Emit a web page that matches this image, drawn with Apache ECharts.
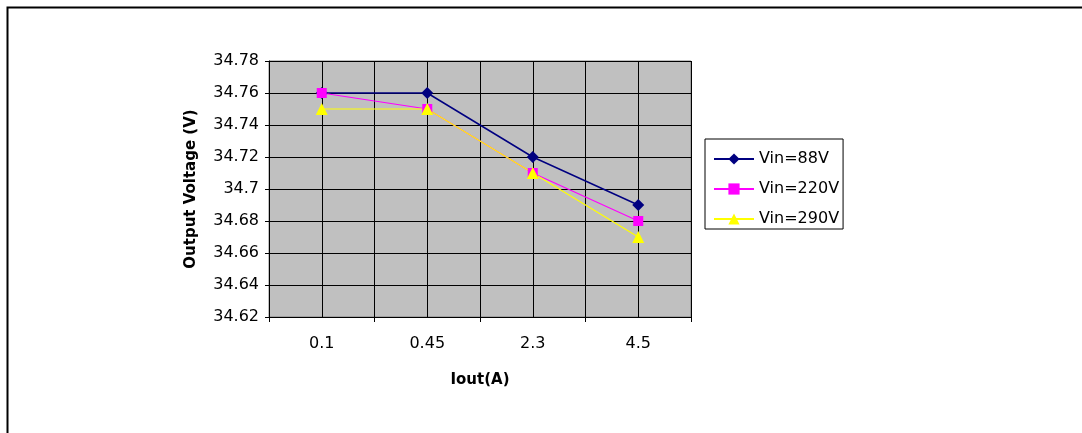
<!DOCTYPE html>
<html>
<head>
<meta charset="utf-8">
<script src="https://cdn.jsdelivr.net/npm/echarts@6/dist/echarts.min.js"></script>
<style>html,body{margin:0;padding:0;background:#fff;}#c{width:1082px;height:433px;}</style>
</head>
<body>
<div id="c"></div>
<script>
var categories = ['0.1', '0.45', '2.3', '4.5'];
var vin88 = [34.76, 34.76, 34.72, 34.69];
var vin220 = [34.76, 34.75, 34.71, 34.68];
var vin290 = [34.75, 34.75, 34.71, 34.67];
var seriesNames = ['Vin=88V', 'Vin=220V', 'Vin=290V'];
var yMin = 34.62, yMax = 34.78, yStep = 0.02;

var chart = echarts.init(document.getElementById('c'), null, {renderer: 'canvas'});
var font = 'DejaVu Sans, Liberation Sans, Arial, sans-serif';
chart.setOption({
  backgroundColor: '#ffffff',
  animation: false,
  graphic: [{
    type: 'rect', shape: {x: 7.5, y: 7.5, width: 1200, height: 600},
    style: {fill: 'none', stroke: '#000', lineWidth: 2}, silent: true, z: 0
  }],
  grid: {
    left: 269, top: 61, right: 391, bottom: 116,
    show: true, backgroundColor: '#C0C0C0', borderColor: '#808080', borderWidth: 1
  },
  legend: {
    orient: 'vertical', left: 705, top: 139,
    borderColor: '#000', borderWidth: 1, borderRadius: 0,
    padding: [12, 4, 2, 8],
    itemWidth: 40, itemHeight: 14, itemGap: 14,
    textStyle: {fontFamily: font, fontSize: 16, lineHeight: 14, color: '#000'},
    data: seriesNames
  },
  xAxis: {
    type: 'category', data: categories, boundaryGap: true,
    name: 'Iout(A)', nameLocation: 'middle', nameGap: 56,
    nameTextStyle: {fontFamily: font, fontSize: 15, fontWeight: 'bold', color: '#000'},
    axisLine: {lineStyle: {color: '#000', width: 1}},
    axisTick: {show: true, length: 5, lineStyle: {color: '#000'}},
    axisLabel: {fontFamily: font, fontSize: 16, color: '#000', margin: 19},
    splitLine: {show: true, lineStyle: {color: '#000', width: 1}}
  },
  yAxis: {
    type: 'value', min: yMin, max: yMax, interval: yStep,
    name: 'Output Voltage (V)', nameLocation: 'middle', nameGap: 70, nameRotate: 90,
    nameTextStyle: {fontFamily: font, fontSize: 15, fontWeight: 'bold', color: '#000'},
    axisLine: {show: true, lineStyle: {color: '#000', width: 1}},
    axisTick: {show: true, length: 4, lineStyle: {color: '#000'}},
    axisLabel: {
      fontFamily: font, fontSize: 16, color: '#000', margin: 10,
      formatter: function (v) { return String(parseFloat(v.toFixed(2))); }
    },
    splitLine: {show: true, lineStyle: {color: '#000', width: 1}}
  },
  series: [
    {
      name: seriesNames[0], type: 'line', data: vin88,
      symbol: 'diamond', symbolSize: 12,
      lineStyle: {color: '#000080', width: 1.5}, itemStyle: {color: '#000080'},
      markLine: {
        silent: true, symbol: ['none', 'none'], z: 1, label: {show: false},
        lineStyle: {color: '#000', width: 1, type: 'solid'},
        data: categories.map(function (c) { return {xAxis: c}; })
      }
    },
    {
      name: seriesNames[1], type: 'line', data: vin220,
      symbol: 'rect', symbolSize: 10,
      lineStyle: {color: '#FF00FF', width: 1.2}, itemStyle: {color: '#FF00FF'}
    },
    {
      name: seriesNames[2], type: 'line', data: vin290,
      symbol: 'triangle', symbolSize: 12,
      lineStyle: {color: '#FFFF00', width: 1.2}, itemStyle: {color: '#FFFF00'}
    }
  ]
});
</script>
</body>
</html>
